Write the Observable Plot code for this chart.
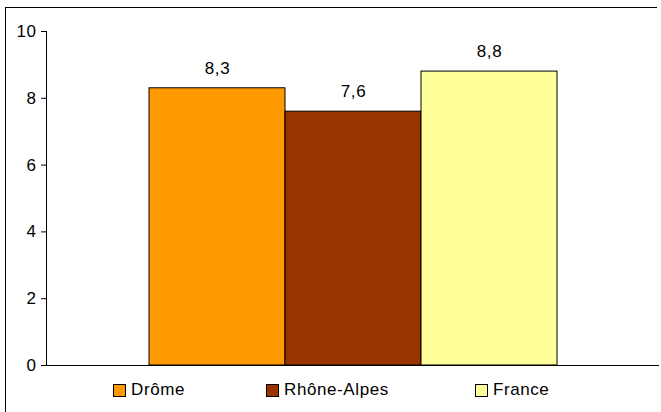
<!DOCTYPE html>
<html>
<head>
<meta charset="utf-8">
<script src="https://cdn.jsdelivr.net/npm/d3@7"></script>
<script src="https://cdn.jsdelivr.net/npm/@observablehq/plot@0.6"></script>
<style>
  html, body { margin: 0; padding: 0; background: #fff; }
  body { width: 661px; height: 412px; position: relative; overflow: hidden; font-family: "Liberation Sans", Arial, sans-serif; }
  #frame { position: absolute; left: 5px; top: 7px; width: 651px; height: 420px; border-top: 1.5px solid #000; border-left: 1.5px solid #000; pointer-events: none; }
  #chart { position: absolute; left: 0; top: 0; }
  #chart svg text { letter-spacing: 0.6px; }
  #legend { position: absolute; left: 0; top: 380px; display: flex; align-items: center; font-size: 17px; letter-spacing: 0.6px; color: #000; }
  .item { display: flex; align-items: center; }
  .sw { width: 11px; height: 11px; border: 1px solid #000; margin-right: 5px; }
</style>
</head>
<body>
<div id="chart"></div>
<div id="legend"></div>
<div id="frame"></div>
<script>
const series = ["Drôme", "Rhône-Alpes", "France"];
const values = [8.3, 7.6, 8.8];
const colors = ["#FF9900", "#993300", "#FFFF99"];
const yTicks = [0, 2, 4, 6, 8, 10];
const legendOffsets = [113, 81, 86];

const data = series.map((s, i) => ({series: s, value: values[i], label: String(values[i]).replace(".", ",")}));

const chart = Plot.plot({
  width: 661,
  height: 380,
  marginLeft: 46,
  marginRight: 2,
  marginTop: 31,
  marginBottom: 15,
  style: {fontFamily: "'Liberation Sans', Arial, sans-serif", fontSize: "17px", color: "#000", background: "transparent"},
  x: {domain: series, paddingInner: 0, paddingOuter: 0.75, axis: null},
  y: {domain: [0, 10], axis: null},
  color: {domain: series, range: colors},
  marks: [
    Plot.barY(data, {x: "series", y: "value", fill: "series", stroke: "#000", strokeWidth: 1}),
    Plot.text(data, {x: "series", y: "value", text: "label", dy: -20, fill: "#000", fontSize: 17}),
    Plot.axisY({ticks: yTicks, tickSize: 5, tickPadding: 5, fontSize: 17, fill: "#000", stroke: "#000", label: null}),
    Plot.frame({anchor: "left", stroke: "#000"}),
    Plot.ruleY([0], {stroke: "#000"})
  ]
});
document.getElementById("chart").appendChild(chart);

const legend = document.getElementById("legend");
series.forEach((s, i) => {
  const item = document.createElement("div");
  item.className = "item";
  item.style.marginLeft = legendOffsets[i] + "px";
  const sw = document.createElement("div");
  sw.className = "sw";
  sw.style.background = colors[i];
  const t = document.createElement("span");
  t.textContent = s;
  item.appendChild(sw);
  item.appendChild(t);
  legend.appendChild(item);
});
</script>
</body>
</html>
